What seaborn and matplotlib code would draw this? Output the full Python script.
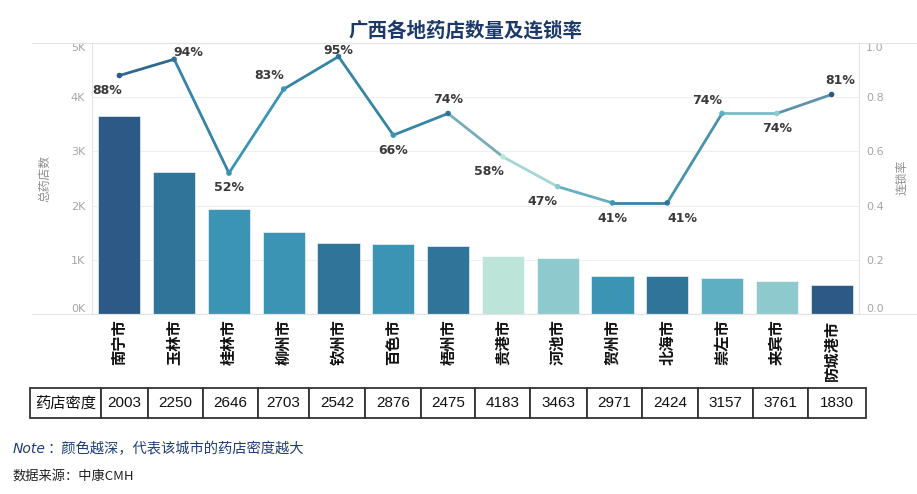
import numpy as np
import pandas as pd
import matplotlib
matplotlib.use("Agg")
import matplotlib.pyplot as plt
import seaborn as sns
from matplotlib.collections import LineCollection
from matplotlib.lines import Line2D
from matplotlib.colors import to_rgb

# ---------------- data ----------------
cities = ["南宁市", "玉林市", "桂林市", "柳州市", "钦州市", "百色市", "梧州市",
          "贵港市", "河池市", "贺州市", "北海市", "崇左市", "来宾市", "防城港市"]
store_counts = [3650, 2620, 1940, 1520, 1310, 1300, 1260, 1070, 1040, 710, 710, 670, 610, 530]
chain_rates = [0.88, 0.94, 0.52, 0.83, 0.95, 0.66, 0.74, 0.58, 0.47, 0.41, 0.41, 0.74, 0.74, 0.81]
rate_labels = ["88%", "94%", "52%", "83%", "95%", "66%", "74%", "58%", "47%", "41%", "41%", "74%", "74%", "81%"]
density = [2003, 2250, 2646, 2703, 2542, 2876, 2475, 4183, 3463, 2971, 2424, 3157, 3761, 1830]
bar_colors = ["#2c5985", "#317499", "#3b94b3", "#3b94b3", "#317499", "#3b94b3", "#317499",
              "#bde4d9", "#8ecacd", "#3b94b3", "#317499", "#5fafc2", "#8ecacd", "#2c5985"]
left_ticks = [0, 1000, 2000, 3000, 4000, 5000]
left_tick_labels = ["0K", "1K", "2K", "3K", "4K", "5K"]
right_ticks = [0.0, 0.2, 0.4, 0.6, 0.8, 1.0]
right_tick_labels = ["0.0", "0.2", "0.4", "0.6", "0.8", "1.0"]

# label placement (dx px, dy px, ha, va) -- layout only
label_pos = [(3, -8, "right", "top"), (-1, 0, "left", "bottom"), (0, -8, "center", "top"),
             (0, 7, "right", "bottom"), (0, 0, "center", "bottom"), (0, -9, "center", "top"),
             (0, 7, "center", "bottom"), (1, -8, "right", "top"), (0, -8, "right", "top"),
             (0, -9, "center", "top"), (0, -9, "left", "top"), (0, 6, "right", "bottom"),
             (0, -9, "center", "top"), (-6, 7, "left", "bottom")]

# ---------------- style ----------------
sns.set_theme(style="white")
plt.rcParams["font.family"] = ["Noto Sans CJK SC", "DejaVu Sans"]
plt.rcParams["axes.unicode_minus"] = False

W, H = 917, 494
fig = plt.figure(figsize=(W / 100, H / 100), dpi=100)

def fx(px):
    return px / W

def fy(py):
    return 1 - py / H

ax = fig.add_axes([fx(92), fy(314), fx(859) - fx(92), fy(43) - fy(314)])

df = pd.DataFrame({"city": cities, "count": store_counts})
sns.barplot(data=df, x="city", y="count", hue="city", order=cities, hue_order=cities,
            palette=bar_colors, saturation=1, legend=False, width=0.77, ax=ax,
            edgecolor="#ffffff", linewidth=0.4)

ax.set_ylim(0, 5000)
ax.set_xlim(-0.5, len(cities) - 0.5)
ax.set_yticks(left_ticks)
ax.set_yticklabels(left_tick_labels, color="#a6a6a6", fontsize=8, family="DejaVu Sans")
ax.tick_params(axis="y", length=0, pad=5)
ax.set_xticks(np.arange(len(cities)))
ax.set_xticklabels(cities, rotation=90, fontsize=11, fontweight="bold", color="#111111", va="top")
ax.tick_params(axis="x", length=0, pad=4)
ax.set_xlabel("")
ax.set_ylabel("")
ax.yaxis.grid(True, color="#efefef", linewidth=0.8)
ax.set_axisbelow(True)
for s in ax.spines.values():
    s.set_color("#e3e3e3")
    s.set_linewidth(0.8)
ylabs = ax.get_yticklabels()
ylabs[0].set_va("bottom")
ylabs[-1].set_va("top")

# secondary axis
ax2 = ax.twinx()
ax2.set_ylim(0, 1.0)
ax2.set_yticks(right_ticks)
ax2.set_yticklabels(right_tick_labels, color="#a6a6a6", fontsize=8, family="DejaVu Sans")
ax2.tick_params(axis="y", length=0, pad=5)
for s in ax2.spines.values():
    s.set_visible(False)
ax2.grid(False)
rlabs = ax2.get_yticklabels()
rlabs[0].set_va("bottom")
rlabs[-1].set_va("top")

xs = np.arange(len(cities))
pts = np.column_stack([xs, chain_rates])
segs = [pts[i:i + 2] for i in range(len(pts) - 1)]
seg_colors = [tuple((np.array(to_rgb(bar_colors[i])) + np.array(to_rgb(bar_colors[i + 1]))) / 2)
              for i in range(len(pts) - 1)]
lc = LineCollection(segs, colors=seg_colors, linewidths=2.0, capstyle="round", joinstyle="round", zorder=3)
ax2.add_collection(lc)
sns.scatterplot(x=xs, y=chain_rates, hue=cities, hue_order=cities, palette=bar_colors,
                legend=False, s=16, edgecolor="none", ax=ax2, zorder=4)
ax2.set_xlim(-0.5, len(cities) - 0.5)

for i, (lab, (dx, dy, ha, va)) in enumerate(zip(rate_labels, label_pos)):
    ax2.annotate(lab, (xs[i], chain_rates[i]), xytext=(dx * 0.72, dy * 0.72),
                 textcoords="offset points", ha=ha, va=va, fontsize=9,
                 fontweight="bold", color="#3a3a3a", family="DejaVu Sans", zorder=5)

# axis titles
fig.text(fx(45), fy(178), "总药店数", rotation=90, ha="center", va="center", fontsize=8.5, color="#8c8c8c")
fig.text(fx(902), fy(177), "连锁率", rotation=90, ha="center", va="center", fontsize=8.5, color="#8c8c8c")

# frame lines extending into header area
for yy in (43, 314):
    fig.add_artist(Line2D([fx(32), 1.0], [fy(yy), fy(yy)], transform=fig.transFigure,
                          color="#e3e3e3", linewidth=0.8))

# title
fig.text(fx(465), fy(31), "广西各地药店数量及连锁率", ha="center", va="center",
         fontsize=14, fontweight="bold", color="#1b3a6b")

# table
col_px = [71, 47, 55, 55, 51, 56, 56, 54, 55, 57, 55, 56, 55, 55, 58]
tax = fig.add_axes([fx(30), fy(418), fx(866) - fx(30), fy(388) - fy(418)])
tax.axis("off")
cell_text = [["药店密度"] + [str(d) for d in density]]
tbl = tax.table(cellText=cell_text, colWidths=[c / sum(col_px) for c in col_px],
                cellLoc="center", bbox=[0, 0, 1, 1])
tbl.auto_set_font_size(False)
for (r, c), cell in tbl.get_celld().items():
    cell.set_edgecolor("#333333")
    cell.set_linewidth(1.3)
    t = cell.get_text()
    t.set_fontsize(11)
    t.set_color("#111111")
    if c > 0:
        t.set_fontfamily("Liberation Sans")

# notes
fig.text(fx(13), fy(449), "Note", ha="left", va="center", fontsize=10, style="italic",
         color="#1f3e77", family="DejaVu Sans")
fig.text(fx(48), fy(449), "：颜色越深，代表该城市的药店密度越大", ha="left", va="center",
         fontsize=10.3, color="#1f3e77")
fig.text(fx(12), fy(476), "数据来源：中康CMH", ha="left", va="center", fontsize=9.5, color="#222222")

fig.savefig("out.png", dpi=100)
